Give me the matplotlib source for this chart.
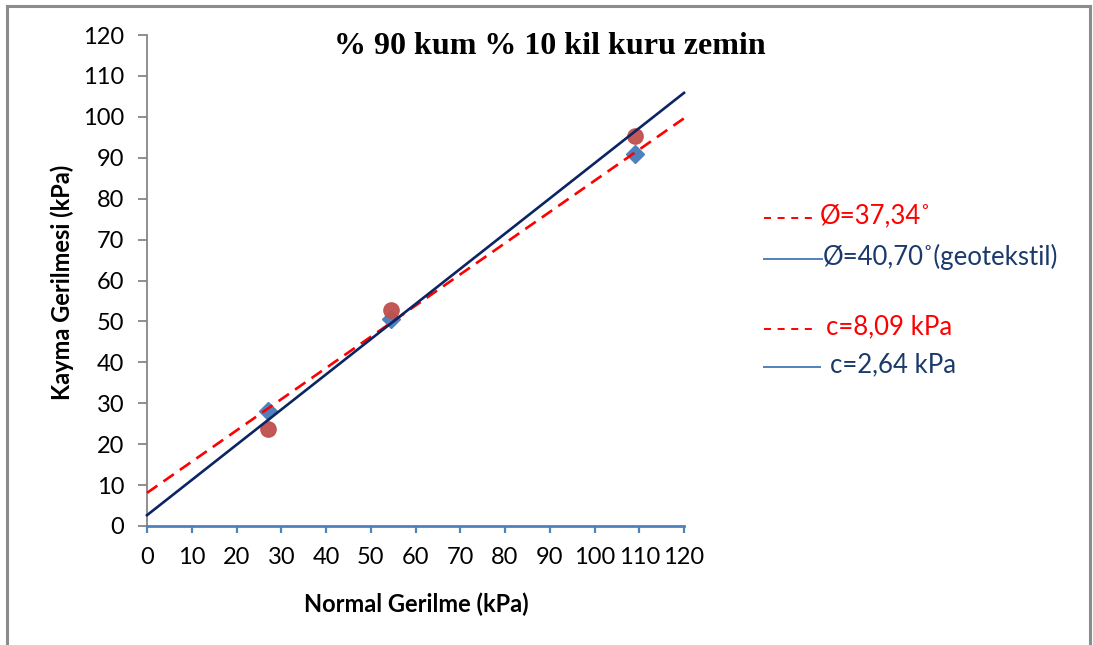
import numpy as np
import matplotlib
matplotlib.use("Agg")
import matplotlib.pyplot as plt
from matplotlib.lines import Line2D

# ---- data ----
normal_stress = [27.0, 54.5, 109.0]
shear_diamonds = [28.0, 50.5, 91.0]      # blue diamonds
shear_circles = [23.8, 52.7, 95.2]       # red circles
phi_red_deg = 37.34
c_red = 8.09
phi_blue_deg = 40.70
c_blue = 2.64
fit_x = [0.0, 120.0]
x_ticks = list(range(0, 121, 10))
y_ticks = list(range(0, 121, 10))
title = "% 90 kum % 10 kil kuru zemin"
xlabel = "Normal Gerilme (kPa)"
ylabel = "Kayma Gerilmesi (kPa)"
legend_labels = ["Ø=37,34˚", "Ø=40,70˚(geotekstil)", "c=8,09 kPa", "c=2,64 kPa"]

SANS = ["Lato", "DejaVu Sans"]
plt.rcParams["font.family"] = SANS

W, H = 1093, 645
fig = plt.figure(figsize=(W / 100, H / 100), dpi=100)
fig.patch.set_facecolor("white")

def fx(px):
    return px / W

def fy(py):
    return 1 - py / H

ax = fig.add_axes([fx(147), fy(526), fx(684) - fx(147), fy(35) - fy(526)])
ax.set_xlim(0, 120)
ax.set_ylim(0, 120)

# markers
ax.plot(normal_stress, shear_diamonds, linestyle="none", marker="D",
        markersize=9.5, color="#4F81BD", zorder=3)
ax.plot(normal_stress, shear_circles, linestyle="none", marker="o",
        markersize=11, color="#C0504D", alpha=0.95, zorder=4)

# fit lines
fx_arr = np.array(fit_x)
y_red = c_red + np.tan(np.radians(phi_red_deg)) * fx_arr
y_blue = c_blue + np.tan(np.radians(phi_blue_deg)) * fx_arr
ax.plot(fx_arr, y_red, color="#FF0000", linewidth=1.9, dashes=(4.8, 2.8),
        zorder=5, clip_on=False)
ax.plot(fx_arr, y_blue, color="#0B2463", linewidth=1.9, zorder=6, clip_on=False)

# spines and ticks
for s in ["top", "right"]:
    ax.spines[s].set_visible(False)
ax.spines["left"].set_color("#868686")
ax.spines["left"].set_linewidth(1.3)
ax.spines["bottom"].set_color("#4F81BD")
ax.spines["bottom"].set_linewidth(2.0)
ax.set_xticks(x_ticks)
ax.set_yticks(y_ticks)
ax.tick_params(axis="y", direction="out", length=6.5, width=1.3, color="#868686",
               labelsize=17, pad=10, labelcolor="black")
ax.tick_params(axis="x", direction="out", length=5, width=1.6, color="#4F81BD",
               labelsize=17, pad=10, labelcolor="black")

# title and axis labels
fig.text(fx(550), fy(47), title, ha="center", va="center", fontsize=23,
         fontweight="bold", family=["Liberation Serif", "DejaVu Serif"])
fig.text(fx(416), fy(604), xlabel, ha="center", va="center", fontsize=17,
         fontweight="bold")
fig.text(fx(62), fy(282), ylabel, ha="center", va="center", fontsize=17,
         fontweight="bold", rotation=90)

# manual legend
legend_rows = [
    (218, 764, 818, "red_dash", legend_labels[0], "#FF0000", 820),
    (259, 764, 822, "blue", legend_labels[1], "#1B3A6B", 823),
    (329, 764, 818, "red_dash", legend_labels[2], "#FF0000", 826),
    (367, 764, 820, "blue", legend_labels[3], "#1B3A6B", 830),
]
for ypx, x0, x1, kind, lab, tcol, tx in legend_rows:
    if kind == "red_dash":
        ln = Line2D([fx(x0), fx(x1)], [fy(ypx), fy(ypx)], transform=fig.transFigure,
                    color="#FF0000", linewidth=1.4, dashes=(3.6, 3.4))
    else:
        ln = Line2D([fx(x0), fx(x1)], [fy(ypx), fy(ypx)], transform=fig.transFigure,
                    color="#4F81BD", linewidth=1.4)
    fig.add_artist(ln)
    fig.text(fx(tx), fy(ypx - 2), lab, ha="left", va="center", fontsize=18.5,
             color=tcol, family=SANS)

# outer frame
frame_col = "#8C8C8C"
for xs, ys in [([7, 7], [6, 660]), ([7, 1090], [6, 6]), ([1090, 1090], [6, 660])]:
    fig.add_artist(Line2D([fx(v) for v in xs], [fy(v) for v in ys],
                          transform=fig.transFigure, color=frame_col, linewidth=2.2))

fig.savefig("out.png", dpi=100)
